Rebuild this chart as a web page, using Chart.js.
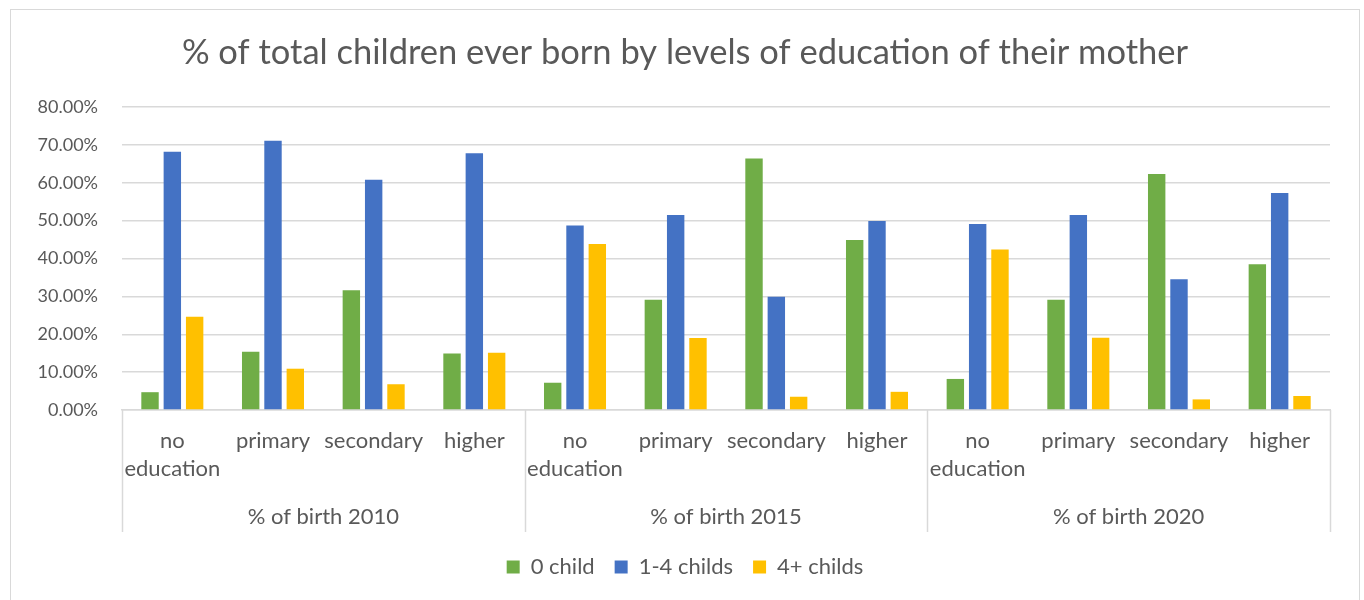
<!DOCTYPE html>
<html>
<head>
<meta charset="utf-8">
<script src="https://cdn.jsdelivr.net/npm/chart.js@4.4.1/dist/chart.umd.min.js"></script>
<style>
  html, body { margin: 0; padding: 0; background: #fff; }
  #wrap { position: relative; width: 1364px; height: 600px; overflow: hidden; }
  #frame { position: absolute; left: 10px; top: 9px; width: 1350px; height: 700px; border: 1px solid #d9d9d9; pointer-events: none; box-sizing: border-box; }
  canvas { position: absolute; left: 0; top: 0; }
</style>
</head>
<body>
<div id="wrap">
  <canvas id="c" width="1364" height="600"></canvas>
  <div id="frame"></div>
</div>
<script>
const titleText = '% of total children ever born by levels of education of their mother';
const groups = ['% of birth 2010', '% of birth 2015', '% of birth 2020'];
const levels = [['no', 'education'], 'primary', 'secondary', 'higher'];
const seriesNames = ['0 child', '1-4 childs', '4+ childs'];
const zeroChild = [4.7, 15.4, 31.6, 14.9, 7.2, 29.1, 66.4, 44.9, 8.2, 29.1, 62.3, 38.5];
const oneToFour = [68.2, 71.1, 60.8, 67.8, 48.7, 51.5, 29.9, 49.9, 49.1, 51.5, 34.5, 57.3];
const fourPlus = [24.6, 10.9, 6.8, 15.1, 43.8, 19.0, 3.5, 4.8, 42.4, 19.1, 2.8, 3.7];
const yTicks = [0, 10, 20, 30, 40, 50, 60, 70, 80];

const labels = [];
groups.forEach(() => levels.forEach(l => labels.push(l)));

const textColor = '#595959';
const gridColor = '#d9d9d9';
const fontFamily = 'Lato, "Open Sans", sans-serif';

const separators = {
  id: 'separators',
  afterDraw(chart) {
    const xs = chart.scales.x, x2 = chart.scales.x2;
    const ctx = chart.ctx;
    const step = (xs.right - xs.left) / labels.length;
    ctx.save();
    ctx.strokeStyle = gridColor;
    ctx.lineWidth = 1.5;
    for (let g = 0; g <= groups.length; g++) {
      const px = Math.round(xs.left + g * levels.length * step) + 0.5;
      ctx.beginPath();
      ctx.moveTo(px, xs.top);
      ctx.lineTo(px, x2.top + 32);
      ctx.stroke();
    }
    ctx.restore();
  }
};

new Chart(document.getElementById('c'), {
  type: 'bar',
  data: {
    labels: labels,
    datasets: [
      { label: seriesNames[0], data: zeroChild, backgroundColor: '#70AD47' },
      { label: seriesNames[1], data: oneToFour, backgroundColor: '#4472C4' },
      { label: seriesNames[2], data: fourPlus, backgroundColor: '#FFC000' }
    ]
  },
  options: {
    responsive: false,
    animation: false,
    devicePixelRatio: 1,
    layout: { padding: { left: 6, right: 0, top: 0, bottom: 12 } },
    datasets: { bar: { categoryPercentage: 0.665, barPercentage: 0.78 } },
    plugins: {
      title: {
        display: true,
        text: titleText,
        color: textColor,
        font: { family: fontFamily, size: 34.5, weight: 'normal', lineHeight: 1.2 },
        padding: { top: 32, bottom: 33.6 }
      },
      legend: {
        position: 'bottom',
        labels: {
          color: textColor,
          font: { family: fontFamily, size: 22 },
          boxWidth: 13,
          boxHeight: 13,
          padding: 20
        }
      },
      tooltip: { enabled: false }
    },
    scales: {
      x: {
        type: 'category',
        position: 'bottom',
        grid: { display: false, drawTicks: false },
        border: { display: true, color: gridColor, width: 1.5 },
        ticks: {
          color: textColor,
          font: { family: fontFamily, size: 22, lineHeight: 1.273 },
          padding: 17,
          maxRotation: 0,
          autoSkip: false
        },
        afterFit(scale) { scale.height = 90; }
      },
      x2: {
        type: 'category',
        position: 'bottom',
        labels: groups,
        offset: true,
        grid: { display: false, drawTicks: false },
        border: { display: false },
        ticks: {
          color: textColor,
          font: { family: fontFamily, size: 22 },
          padding: 4,
          maxRotation: 0,
          autoSkip: false
        },
        afterFit(scale) { scale.height = 36; }
      },
      y: {
        min: 0,
        max: 80,
        afterBuildTicks(scale) { scale.ticks = yTicks.map(v => ({ value: v })); },
        grid: { color: gridColor, lineWidth: 1.5, drawTicks: false },
        border: { display: false },
        ticks: {
          color: textColor,
          font: { family: fontFamily, size: 18 },
          padding: 24,
          callback: v => v.toFixed(2) + '%'
        },
        afterFit(scale) { scale.width = 116; }
      },
      yr: {
        position: 'right',
        display: true,
        grid: { display: false, drawTicks: false },
        border: { display: false },
        ticks: { display: false },
        afterFit(scale) { scale.width = 34; }
      }
    }
  },
  plugins: [separators]
});
</script>
</body>
</html>
